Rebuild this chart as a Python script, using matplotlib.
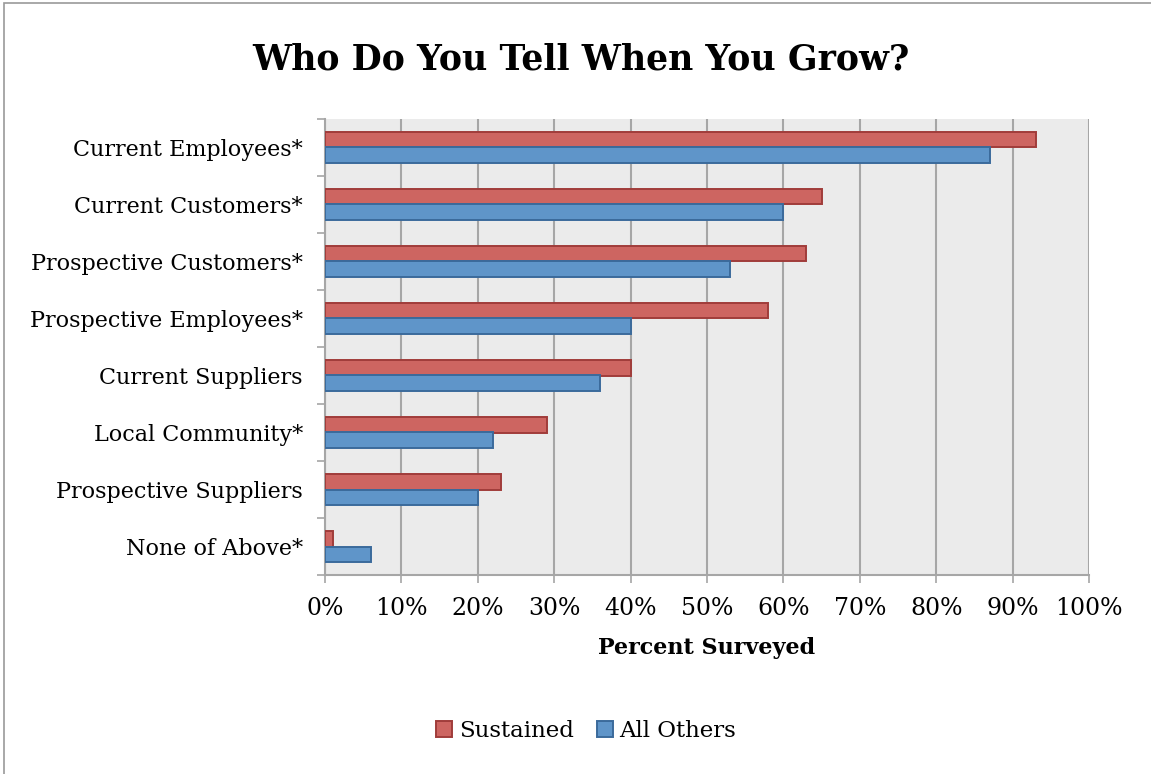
import matplotlib
matplotlib.use("Agg")
import matplotlib.pyplot as plt
from matplotlib.patches import Rectangle
from matplotlib.ticker import FixedLocator, FuncFormatter

# survey responses, percent of respondents
categories = [
    "Current Employees*",
    "Current Customers*",
    "Prospective Customers*",
    "Prospective Employees*",
    "Current Suppliers",
    "Local Community*",
    "Prospective Suppliers",
    "None of Above*",
]
sustained = [93, 65, 63, 58, 40, 29, 23, 1]
all_others = [87, 60, 53, 40, 36, 22, 20, 6]
x_ticks = [0, 10, 20, 30, 40, 50, 60, 70, 80, 90, 100]

RED = "#CD6561"
RED_EDGE = "#A03C3A"
BLUE = "#5F95C9"
BLUE_EDGE = "#3B6A9B"
GRID = "#A6A6A6"

plt.rcParams["font.family"] = ["DejaVu Serif"]

fig = plt.figure(figsize=(11.51, 7.74), dpi=100)
ax = fig.add_axes([325 / 1151, 1 - 575 / 774, 764 / 1151, 456 / 774])

# outer chart frame
fig.patches.append(Rectangle((4 / 1151, -0.01), 1.2, 1 - 3 / 774 + 0.01,
                             transform=fig.transFigure, fill=False,
                             edgecolor="#999999", linewidth=1.2))

n = len(categories)
ypos = list(range(n))
h = 0.28
ax.barh([y - h / 2 for y in ypos], sustained, height=h, color=RED,
        edgecolor=RED_EDGE, linewidth=1.4, label="Sustained", zorder=3)
ax.barh([y + h / 2 for y in ypos], all_others, height=h, color=BLUE,
        edgecolor=BLUE_EDGE, linewidth=1.4, label="All Others", zorder=3)

ax.set_facecolor("#EBEBEB")
ax.set_xlim(0, 100)
ax.set_ylim(n - 0.5, -0.5)

ax.xaxis.set_major_locator(FixedLocator(x_ticks))
ax.xaxis.set_major_formatter(FuncFormatter(lambda v, p: f"{v:.0f}%"))
ax.grid(axis="x", color=GRID, linewidth=1.5, zorder=0)
ax.tick_params(axis="x", length=6, width=1.2, color=GRID, pad=10, labelsize=17)

ax.set_yticks(ypos)
ax.set_yticklabels(categories)
ax.yaxis.set_minor_locator(FixedLocator([y - 0.5 for y in range(n + 1)]))
ax.tick_params(axis="y", which="major", length=0, pad=16, labelsize=16)
ax.tick_params(axis="y", which="minor", length=6, width=1.2, color=GRID)

for side in ("top", "right"):
    ax.spines[side].set_visible(False)
for side in ("left", "bottom"):
    ax.spines[side].set_color(GRID)
    ax.spines[side].set_linewidth(1.5)

ax.set_xlabel("Percent Surveyed", fontsize=16, fontweight="bold", labelpad=12)
fig.suptitle("Who Do You Tell When You Grow?", fontsize=25, fontweight="bold",
             x=581 / 1151, y=1 - 60 / 774, va="center")

fig.legend(loc="center", bbox_to_anchor=(586 / 1151, 1 - 731 / 774), ncol=2,
           frameon=False, fontsize=16.5, handlelength=0.7, handleheight=0.7,
           handletextpad=0.3, columnspacing=1.0)

fig.savefig("out.png", dpi=100)
